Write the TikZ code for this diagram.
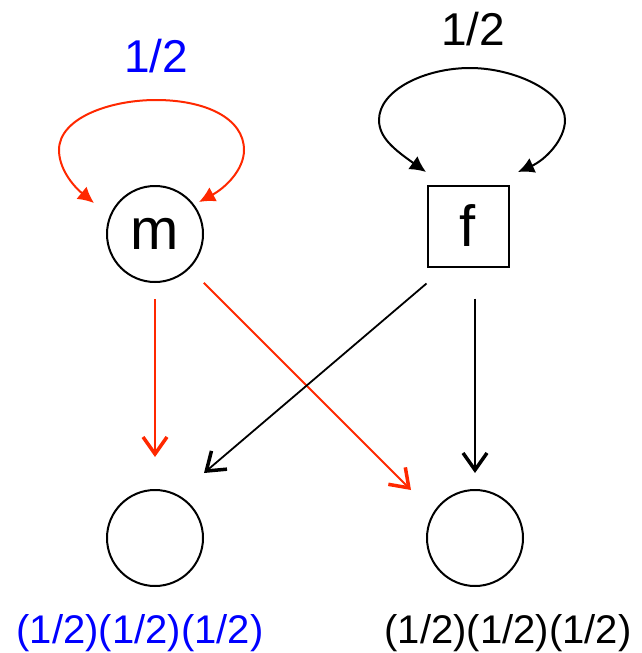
\documentclass[tikz,border=0pt]{standalone}
\usepackage{fontspec}
\setmainfont{Liberation Sans}
\usetikzlibrary{arrows.meta}
\definecolor{lred}{RGB}{255,40,0}
\definecolor{lblue}{RGB}{0,0,255}
\tikzset{
  state/.style={draw,circle,line width=2pt,minimum size=96pt,inner sep=0pt,font=\fontsize{58}{60}\selectfont},
  box/.style={draw,rectangle,line width=2pt,minimum size=81pt,inner sep=0pt,font=\fontsize{58}{60}\selectfont},
  prob/.style={anchor=base,font=\fontsize{46}{50}\selectfont},
  prod/.style={anchor=base,font=\fontsize{40}{44}\selectfont},
  redarrow/.style={lred,line width=1.8pt,-{Straight Barb[length=17pt,width=24pt,line width=3.5pt]}},
  blkarrow/.style={black,line width=1.8pt,-{Straight Barb[length=17pt,width=24pt,line width=3.5pt]}},
  redloop/.style={lred,line width=2pt,{Latex[length=16pt,width=16pt]}-{Latex[length=16pt,width=16pt]}},
  blkloop/.style={black,line width=2pt,{Latex[length=16pt,width=16pt]}-{Latex[length=16pt,width=16pt]}}
}
\begin{document}
\begin{tikzpicture}[x=1pt,y=-1pt]
\useasboundingbox (0,0) rectangle (641,653);
\node[state] (m) at (155,234) {m};
\node[box] (f) at (468,226) {f};
\node[state] (a) at (155,538) {};
\node[state] (b) at (475,538) {};
\node[prob,lblue] (pm) at (156,72) {1/2};
\node[prob] (pf) at (473,45) {1/2};
\node[prod,lblue] (la) at (140,643) {(1/2)(1/2)(1/2)};
\node[prod] (lb) at (508,643) {(1/2)(1/2)(1/2)};
% loop ends
\coordinate (ml) at (94,203);
\coordinate (mr) at (199,202);
\coordinate (fl) at (426,172);
\coordinate (fr) at (518,172);
\draw[redloop] (ml) .. controls (72,185) and (59,168) .. (59,150)
  .. controls (59,118) and (110,100) .. (156,100)
  .. controls (205,100) and (244,118) .. (244,150)
  .. controls (244,170) and (225,188) .. (mr);
\draw[blkloop] (fl) .. controls (395,150) and (379,138) .. (379,120)
  .. controls (379,90) and (425,68) .. (470,68)
  .. controls (515,68) and (565,92) .. (565,120)
  .. controls (565,140) and (545,160) .. (fr);
% arrow tips
\coordinate (ta) at (155,457);
\coordinate (tb) at (411,490);
\coordinate (tc) at (204,473);
\coordinate (td) at (475,473);
\draw[redarrow] ([yshift=-16pt]m.south) -- (ta);
\draw[redarrow,shorten <=20pt] (m) -- (tb);
\draw[blkarrow] ([yshift=-16pt]f.south west) -- (tc);
\draw[blkarrow] ([xshift=7pt,yshift=-31pt]f.south) -- (td);
\end{tikzpicture}
\end{document}
